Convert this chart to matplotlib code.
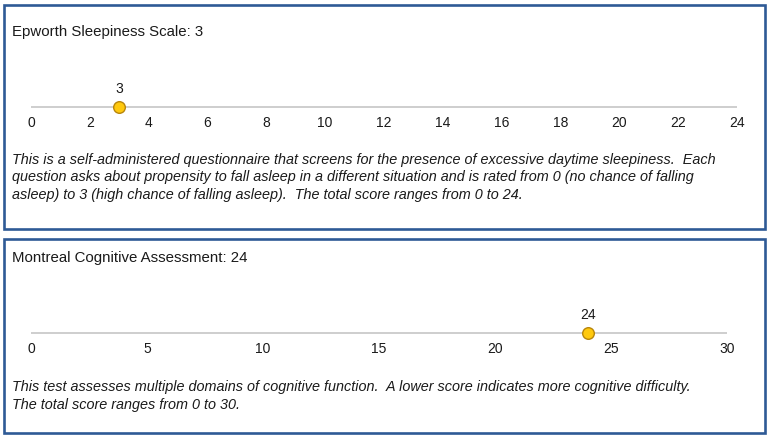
"""
Two score cards: Epworth Sleepiness Scale and Montreal Cognitive Assessment.
Output: out.png
"""
import matplotlib
matplotlib.use("Agg")
import matplotlib.pyplot as plt
from matplotlib.patches import Rectangle

plt.rcParams["font.family"] = ["Liberation Sans", "DejaVu Sans"]

# ── Data ──────────────────────────────────────────────────────────────────────

titles = ["Epworth Sleepiness Scale", "Montreal Cognitive Assessment"]
scores = [3, 24]
scale_max = [24, 30]
tick_steps = [2, 5]
descriptions = [
    [
        "This is a self-administered questionnaire that screens for the presence of excessive daytime sleepiness.  Each",
        "question asks about propensity to fall asleep in a different situation and is rated from 0 (no chance of falling",
        "asleep) to 3 (high chance of falling asleep).  The total score ranges from 0 to 24.",
    ],
    [
        "This test assesses multiple domains of cognitive function.  A lower score indicates more cognitive difficulty.",
        "The total score ranges from 0 to 30.",
    ],
]

# ── Style ─────────────────────────────────────────────────────────────────────

W, H = 771, 438
BOX_COLOR = "#2E5A96"
LINE_COLOR = "#CACACA"
DOT_FACE = "#FFC90E"
DOT_EDGE = "#B8860B"
TEXT_COLOR = "#1A1A1A"
LINE_GAP = 17.5

# panel geometry in pixels (top-left origin)
panels = [
    dict(box=(4, 5, 761, 224), title_y=32, line_y=107, x0=31, x1=737, text_y=160),
    dict(box=(4, 239, 761, 194), title_y=258, line_y=333, x0=31, x1=727, text_y=387),
]

fig = plt.figure(figsize=(W / 100, H / 100), dpi=100)
bg = fig.add_axes([0, 0, 1, 1])
bg.set_xlim(0, W)
bg.set_ylim(H, 0)
bg.axis("off")

for i, p in enumerate(panels):
    bx, by, bw, bh = p["box"]
    bg.add_patch(Rectangle((bx, by), bw, bh, fill=False, edgecolor=BOX_COLOR, linewidth=1.9))
    bg.text(12, p["title_y"], f"{titles[i]}: {scores[i]}", fontsize=10.8,
            color=TEXT_COLOR, va="center", ha="left")
    for k, line in enumerate(descriptions[i]):
        bg.text(12, p["text_y"] + k * LINE_GAP, line, fontsize=10.35, style="italic",
                color=TEXT_COLOR, va="center", ha="left")

    # number line axes
    ax_h = 20
    ax = fig.add_axes([p["x0"] / W, 1 - (p["line_y"] + ax_h / 2) / H,
                       (p["x1"] - p["x0"]) / W, ax_h / H])
    ax.set_xlim(0, scale_max[i])
    ax.set_ylim(-1, 1)
    ax.plot([0, scale_max[i]], [0, 0], color=LINE_COLOR, linewidth=1.3, zorder=1)
    ax.scatter([scores[i]], [0], s=70, color=DOT_FACE, edgecolors=DOT_EDGE,
               linewidths=1.0, zorder=3, clip_on=False)
    ax.annotate(str(scores[i]), (scores[i], 0), xytext=(0, 13), textcoords="offset points",
                ha="center", va="center", fontsize=10, color=TEXT_COLOR)
    for s in ax.spines.values():
        s.set_visible(False)
    ax.set_yticks([])
    ax.set_xticks(range(0, scale_max[i] + 1, tick_steps[i]))
    ax.tick_params(axis="x", length=0, pad=-0.5, labelsize=10, labelcolor=TEXT_COLOR)
    ax.patch.set_alpha(0)

fig.savefig("out.png", dpi=100)
